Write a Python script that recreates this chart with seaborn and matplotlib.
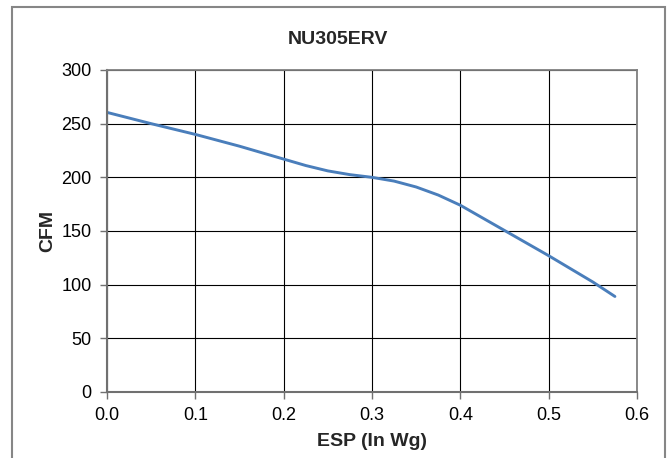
import matplotlib
matplotlib.use("Agg")
import matplotlib.pyplot as plt
from matplotlib.patches import Rectangle
import seaborn as sns
import pandas as pd
import numpy as np

# Data
esp = [0.0, 0.05, 0.10, 0.15, 0.20, 0.225, 0.25, 0.275, 0.30, 0.325, 0.35,
       0.375, 0.40, 0.45, 0.50, 0.55, 0.575]
cfm = [260.5, 250, 240, 229, 217, 211, 206, 202.5, 200, 196.5, 191,
       183.5, 174, 150.5, 127, 102.5, 89]
x_ticks = [0.0, 0.1, 0.2, 0.3, 0.4, 0.5, 0.6]
y_ticks = [0, 50, 100, 150, 200, 250, 300]
title = "NU305ERV"
x_label = "ESP (In Wg)"
y_label = "CFM"

sns.set_style("white")
plt.rcParams['font.family'] = ['Liberation Sans', 'DejaVu Sans']

df = pd.DataFrame({"ESP": esp, "CFM": cfm})

fig = plt.figure(figsize=(6.68, 4.58), dpi=100)
W, H = 668, 458
ax = fig.add_axes([107 / W, 1 - 392 / H, (637 - 107) / W, (392 - 70) / H])

sns.lineplot(data=df, x="ESP", y="CFM", ax=ax, color="#4A7EBB", linewidth=2.1,
             sort=False, estimator=None)
for ln in ax.get_lines():
    ln.set_solid_joinstyle("round")
    ln.set_solid_capstyle("round")

ax.set_xlim(0, 0.6)
ax.set_ylim(0, 300)
ax.set_xticks(x_ticks)
ax.set_xticklabels([f"{t:.1f}" for t in x_ticks])
ax.set_yticks(y_ticks)
ax.set_yticklabels([str(t) for t in y_ticks])

ax.grid(True, color="black", linewidth=0.8)
ax.set_axisbelow(True)

for side in ["top", "right"]:
    ax.spines[side].set_color("#808080")
    ax.spines[side].set_linewidth(1.3)
for side in ["left", "bottom"]:
    ax.spines[side].set_color("#707070")
    ax.spines[side].set_linewidth(1.5)

ax.tick_params(axis="both", which="major", direction="out", length=5, width=1,
               color="#707070", labelsize=13, labelcolor="black", pad=6,
               left=True, bottom=True)

ax.set_xlabel(x_label, fontsize=14, fontweight="bold", labelpad=6)
ax.set_ylabel(y_label, fontsize=14, fontweight="bold", labelpad=4)
fig.text(338 / W, 1 - 40 / H, title, fontsize=14, fontweight="bold",
         ha="center", va="center")

# chart-area border
fig.patches.append(Rectangle((12 / W, -0.05), (665 - 12) / W, 1.05 - 7 / H,
                             transform=fig.transFigure, fill=False,
                             edgecolor="#868686", linewidth=1.5))

fig.savefig("out.png", dpi=100)
